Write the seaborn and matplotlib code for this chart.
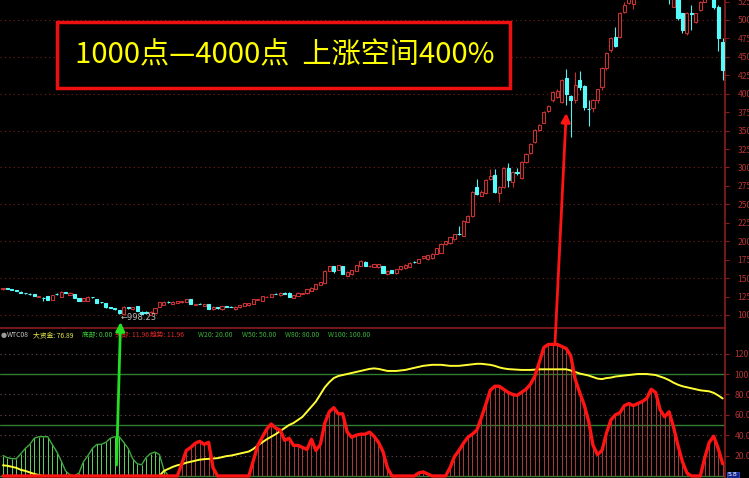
import numpy as np
import matplotlib
matplotlib.use('Agg')
import matplotlib.pyplot as plt
from matplotlib.patches import Rectangle, ConnectionPatch
import seaborn as sns

# weekly candles
opens = [1350, 1368, 1355, 1340, 1318, 1300, 1290, 1280, 1248, 1235,
         1258, 1205, 1290, 1250, 1306, 1272, 1285, 1228, 1196, 1196,
         1245, 1212, 1176, 1158, 1108, 1090, 1068, 1013, 1102, 1077,
         1122, 1045, 1036, 1005, 1032, 1113, 1136, 1175, 1149, 1167,
         1172, 1176, 1212, 1136, 1151, 1126, 1145, 1077, 1104, 1077,
         1115, 1112, 1077, 1104, 1126, 1131, 1149, 1203, 1194, 1243,
         1249, 1287, 1267, 1303, 1303, 1235, 1262, 1290, 1294, 1325,
         1353, 1407, 1438, 1601, 1664, 1610, 1664, 1533, 1552, 1601,
         1664, 1723, 1660, 1655, 1647, 1665, 1552, 1611, 1565, 1620,
         1633, 1656, 1723, 1710, 1769, 1755, 1769, 1828, 1846, 1960,
         1972, 2027, 2099, 2072, 2266, 2343, 2732, 2618, 2650, 2845,
         2899, 2650, 2732, 2989, 2808, 2935, 2854, 3070, 3193, 3340,
         3508, 3608, 3770, 3915, 3951, 3892, 4209, 3969, 3915, 4186,
         4105, 3793, 3802, 3915, 4087, 4344, 4593, 4765, 4765, 5113,
         5230, 5210, 5350, 5480, 5620, 5500, 5700, 5850, 5600, 5500,
         5180, 5300, 5090, 4819, 5100, 4977, 5135, 5250, 5400, 5330,
         5180, 4706]
closes = [1365, 1358, 1345, 1325, 1300, 1292, 1282, 1260, 1255, 1225,
          1205, 1270, 1282, 1316, 1300, 1300, 1228, 1196, 1226, 1248,
          1238, 1168, 1170, 1104, 1100, 1077, 1022, 1113, 1096, 1104,
          1059, 1013, 1030, 1045, 1090, 1172, 1181, 1170, 1181, 1190,
          1190, 1212, 1149, 1149, 1149, 1145, 1081, 1113, 1090, 1122,
          1110, 1108, 1113, 1136, 1158, 1158, 1217, 1217, 1257, 1249,
          1285, 1283, 1303, 1290, 1249, 1271, 1303, 1294, 1348, 1370,
          1416, 1447, 1601, 1664, 1601, 1678, 1556, 1588, 1610, 1678,
          1737, 1664, 1664, 1692, 1687, 1574, 1601, 1574, 1620, 1665,
          1678, 1710, 1712, 1755, 1800, 1814, 1827, 1904, 1963, 2000,
          2054, 2099, 2092, 2280, 2343, 2673, 2641, 2673, 2831, 2885,
          2673, 2732, 2989, 2831, 2944, 2928, 3080, 3184, 3319, 3509,
          3576, 3757, 3834, 4028, 4042, 4186, 3996, 3915, 4118, 4087,
          3825, 3788, 3915, 4060, 4344, 4548, 4751, 4652, 5099, 5203,
          5320, 5350, 5480, 5600, 5500, 5700, 5900, 5600, 5400, 5350,
          5320, 5022, 4864, 5090, 5080, 5090, 5248, 5350, 5330, 5180,
          4751, 4322]
highs = [1372, 1372, 1358, 1345, 1322, 1305, 1298, 1285, 1262, 1238,
         1262, 1275, 1296, 1322, 1312, 1312, 1290, 1232, 1230, 1255,
         1250, 1215, 1180, 1162, 1112, 1094, 1072, 1125, 1115, 1110,
         1126, 1050, 1058, 1050, 1095, 1178, 1186, 1185, 1186, 1195,
         1195, 1216, 1215, 1152, 1158, 1150, 1150, 1117, 1108, 1126,
         1122, 1120, 1117, 1140, 1162, 1163, 1222, 1220, 1262, 1253,
         1290, 1292, 1308, 1308, 1308, 1276, 1308, 1298, 1353, 1375,
         1421, 1452, 1606, 1670, 1670, 1684, 1670, 1593, 1615, 1683,
         1742, 1728, 1680, 1697, 1695, 1670, 1606, 1615, 1625, 1670,
         1685, 1715, 1728, 1760, 1805, 1818, 1840, 1910, 1970, 2010,
         2060, 2105, 2207, 2290, 2360, 2680, 2840, 2690, 2840, 2976,
         2976, 2745, 3010, 3057, 2955, 2990, 3090, 3195, 3330, 3520,
         3590, 3770, 3850, 4040, 4060, 4200, 4331, 3980, 4300, 4313,
         4120, 3915, 3925, 4070, 4360, 4560, 4765, 4910, 5110, 5240,
         5340, 5380, 5500, 5650, 5700, 5750, 5950, 5900, 5650, 5550,
         5350, 5330, 5100, 5110, 5203, 5100, 5260, 5400, 5450, 5350,
         5200, 4751]
lows = [1345, 1352, 1340, 1320, 1295, 1285, 1275, 1255, 1242, 1195,
        1200, 1200, 1276, 1245, 1295, 1268, 1224, 1190, 1192, 1192,
        1232, 1163, 1165, 1100, 1095, 1072, 1018, 998.23, 1085, 1072,
        1055, 1008, 1020, 1002, 1028, 1108, 1132, 1162, 1145, 1163,
        1168, 1172, 1145, 1132, 1144, 1122, 1077, 1072, 1086, 1073,
        1104, 1102, 1073, 1100, 1122, 1127, 1145, 1200, 1190, 1240,
        1245, 1278, 1263, 1286, 1245, 1231, 1258, 1287, 1290, 1321,
        1349, 1403, 1434, 1596, 1565, 1606, 1550, 1528, 1548, 1596,
        1660, 1660, 1655, 1650, 1640, 1570, 1548, 1570, 1560, 1615,
        1630, 1650, 1706, 1705, 1762, 1750, 1760, 1822, 1840, 1955,
        1965, 2020, 2085, 2065, 2260, 2335, 2630, 2610, 2645, 2835,
        2660, 2537, 2725, 2732, 2740, 2900, 2845, 3060, 3185, 3330,
        3500, 3600, 3750, 3890, 3940, 3880, 3847, 3409, 3880, 4050,
        3780, 3562, 3757, 3880, 4050, 4320, 4570, 4640, 4750, 5100,
        5220, 5150, 5330, 5450, 5460, 5480, 5650, 5500, 5300, 5220,
        5170, 5000, 4819, 4800, 4864, 4960, 5120, 5240, 5300, 5150,
        4581, 4186]

# WTC08 indicator
green_hist = [20, 18, 17, 17, 22, 27, 31, 37, 38.5, 38.5,
              38.5, 31, 24, 15, 5, 1, 0, 3, 14, 20,
              27, 31, 31, 33, 37, 38.5, 38.5, 33, 27, 17,
              12, 11, 18, 22, 23.5, 21, 6, 0]
trend = [0, 0, 0, 0, 0, 0, 0, 0, 0, 0,
         0, 0, 0, 0, 0, 0, 0, 0, 0, 0,
         0, 0, 0, 0, 0, 0, 0, 0, 0, 0,
         0, 0, 0, 0, 0, 0, 0, 0, 0, 0,
         12, 25, 28, 32, 34, 31, 33, 8, 0, 0,
         0, 0, 0, 0, 0, 0, 15, 30, 38, 46,
         51, 47, 45, 35, 37, 30, 30, 28, 26, 36,
         25, 31, 52, 63, 67, 61, 61, 43, 38, 40,
         41, 41, 43, 39, 33, 24, 8, 0, 0, 0,
         0, 0, 0, 3, 4, 2, 0, 0, 0, 0,
         8, 19, 25, 32, 38, 41, 45, 57, 70, 84,
         88, 88, 85, 82, 80, 79, 82, 85, 90, 98,
         112, 126, 129, 129, 129, 127, 125, 118, 95, 82,
         70, 54, 30, 21, 25, 42, 55, 60, 62, 69,
         71, 69, 71, 73, 76, 85, 82, 65, 58, 63,
         48, 30, 14, 3, 0, 0, 0, 18, 33, 39,
         27, 12]
big_money = [10.5, 10, 9, 8, 6, 5, 3.5, 2, 1, 0,
             0, 0, 0, 0, 0, 0, 0, 0, 0, 0,
             0, 0, 0, 0, 0, 0, 0, 0, 0, 0,
             0, 0, 0, 0, 0, 0, 5, 7, 9, 10.5,
             11.5, 13, 14, 15, 16, 16.5, 16.8, 17, 17.5, 18.5,
             19.5, 20, 21, 22, 23, 24, 26.5, 30, 33, 36,
             38.5, 41, 44, 47, 50, 52, 55, 58, 63, 68,
             73, 80, 87, 92, 96, 98, 99, 100, 101, 102,
             103, 104, 105, 105.5, 105, 104, 103, 103, 103, 103.5,
             104, 105, 106, 107, 108, 108.5, 109, 109, 109, 108.5,
             108, 108, 108, 108.5, 109, 109.5, 110, 110, 109.5, 109,
             108, 106.5, 105.5, 104.8, 104.5, 104.3, 104, 104, 104, 104.3,
             104.6, 104.6, 104.6, 104.6, 104.6, 104.6, 104.6, 103.5, 102, 100.5,
             99.5, 98.5, 97, 95.5, 95, 96, 96.5, 97.5, 98, 98.5,
             99, 99.5, 100, 100, 100, 99.5, 99, 97.5, 96, 94,
             91.5, 89.5, 88, 87, 86, 85, 84, 83.5, 83, 81.5,
             79, 76]

price_ticks = [1000, 1250, 1500, 1750, 2000, 2250, 2500, 2750, 3000,
               3250, 3500, 3750, 4000, 4250, 4500, 4750, 5000, 5250]
price_grid = [1000, 1500, 2000, 2500, 3000, 3500, 4000, 4500, 5000]
ind_ticks = [20, 40, 60, 80, 100, 120]
ind_dotted = [20, 40, 60, 80, 120]
ind_green = [0, 50, 100]

header = [("WTC08", "#c8c8c8"), ("大资金: 76.89", "#e6e64a"),
          ("底部: 0.00", "#3ccc3c"), ("头部: 11.96", "#e02828"),
          ("趋势: 11.96", "#e02828"), ("W20: 20.00", "#3cb43c"),
          ("W50: 50.00", "#3cb43c"), ("W80: 80.00", "#3cb43c"),
          ("W100: 100.00", "#3cb43c")]
header_x = [7, 33, 82, 115, 150, 198, 242, 285, 328]
title = "1000点—4000点  上涨空间400%"

sns.set_style("dark", {"axes.facecolor": "black", "figure.facecolor": "black"})
plt.rcParams['font.family'] = ['Noto Sans CJK SC', 'DejaVu Sans']
plt.rcParams['axes.unicode_minus'] = False

W, H = 749, 478
dark_red = "#8c1c1c"
label_red = "#b03434"

fig = plt.figure(figsize=(W / 100, H / 100), dpi=100, facecolor="black")
ax1 = fig.add_axes([0, 1 - 328 / H, 725 / W, 328 / H])
ax2 = fig.add_axes([0, 0, 725 / W, 150 / H])

n = len(opens)
idx = np.arange(n)
o = np.array(opens, dtype=float)
c = np.array(closes, dtype=float)
up = c >= o

# candles
wick_col = np.where(up, "#c83232", "#54f0f0")
ax1.vlines(idx, lows, highs, colors=wick_col, lw=0.8, zorder=2)
body_h = np.maximum(np.abs(c - o), 6)
ax1.bar(idx, body_h, bottom=np.minimum(o, c), width=0.7,
        color=np.where(up, "black", "#54fcfc"),
        edgecolor=np.where(up, "#c83232", "#54fcfc"), linewidth=0.8, zorder=3)

for g in price_grid:
    ax1.axhline(g, color="#7a2020", lw=0.8, ls=(0, (1, 3)), zorder=1)

ax1.annotate("←998.23", xy=(27, min(lows)), xytext=(-2, -2),
             textcoords="offset points", color="#bdbdbd", fontsize=6,
             ha="left", va="center", family="DejaVu Sans")

ax1.set_xlim(-0.67, 161.52)
ax1.set_ylim(823.7, 5271)
ax1.set_yticks(price_ticks)
ax1.set_yticklabels([str(t) for t in price_ticks])

# indicator panel
for g in ind_dotted:
    ax2.axhline(g, color="#6a4a4a", lw=0.8, ls=(0, (1, 3)), zorder=1)
for g in ind_green:
    ax2.axhline(g, color="#2e7d32", lw=1.0, zorder=1)

gi = np.arange(len(green_hist))
ax2.vlines(gi, 0, green_hist, colors="#5fd35f", lw=0.7, zorder=2)
sns.lineplot(x=gi, y=green_hist, ax=ax2, color="#3fa83f", lw=1.0, zorder=3)

ax2.vlines(idx, 0, trend, colors="#a83c3c", lw=0.7, zorder=2)
sns.lineplot(x=idx, y=big_money, ax=ax2, color="#ffff33", lw=1.4, zorder=4)
sns.lineplot(x=idx, y=trend, ax=ax2, color="#ff1414", lw=2.4, zorder=5)

ax2.set_xlim(-0.67, 161.52)
ax2.set_ylim(-1.96, 145.1)
ax2.set_yticks(ind_ticks)
ax2.set_yticklabels(["%.2f" % t for t in ind_ticks])

for ax in (ax1, ax2):
    ax.set_facecolor("black")
    ax.grid(False)
    ax.set_xticks([])
    ax.set_xlabel("")
    ax.set_ylabel("")
    for s in ("left", "bottom", "top"):
        ax.spines[s].set_visible(False)
    ax.spines["right"].set_visible(True)
    ax.spines["right"].set_color(dark_red)
    ax.spines["right"].set_linewidth(1.2)
    ax.yaxis.tick_right()
    ax.tick_params(axis="y", which="both", direction="out", length=3, width=0.8,
                   color=dark_red, labelcolor=label_red, labelsize=6.2,
                   right=True, left=False)
ax2.spines["top"].set_visible(True)
ax2.spines["top"].set_color(dark_red)
ax2.spines["top"].set_linewidth(1.2)
ax1.tick_params(axis="y", pad=6)
ax2.tick_params(axis="y", pad=4)

# header line of the indicator
fig.text(0.5 / W, 1 - 335 / H, "●", color="#9a9a9a", fontsize=5,
         va="center", family="DejaVu Sans")
for (txt, col), px in zip(header, header_x):
    fig.text(px / W, 1 - 335 / H, txt, color=col, fontsize=4.9, va="center")

# arrows
con_g = ConnectionPatch(xyA=(25.4, 10.8), coordsA=ax2.transData,
                        xyB=(26.3, 905), coordsB=ax1.transData,
                        arrowstyle="-|>", color="#22e022", lw=2,
                        mutation_scale=13, zorder=10)
fig.add_artist(con_g)
con_r = ConnectionPatch(xyA=(123.5, 131), coordsA=ax2.transData,
                        xyB=(126.0, 3739), coordsB=ax1.transData,
                        arrowstyle="-|>", color="#ff1414", lw=2,
                        mutation_scale=13, zorder=10)
fig.add_artist(con_r)

# title box
fig.add_artist(Rectangle((57 / W, 1 - 88 / H), 453 / W, 66 / H,
                         transform=fig.transFigure, facecolor="black",
                         edgecolor="#ee1010", lw=2.5, zorder=8))
fig.text(284.5 / W, 1 - 55 / H, title, color="#ffff00", fontsize=21,
         ha="center", va="center", zorder=9, weight="medium")

fig.text(728 / W, 1.5 / H, "5.8", color="white", fontsize=4.5, zorder=10,
         family="DejaVu Sans",
         bbox=dict(facecolor="#14248c", edgecolor="#3050d0", pad=0.6, lw=0.6))

fig.savefig("out.png", dpi=100, facecolor="black")
